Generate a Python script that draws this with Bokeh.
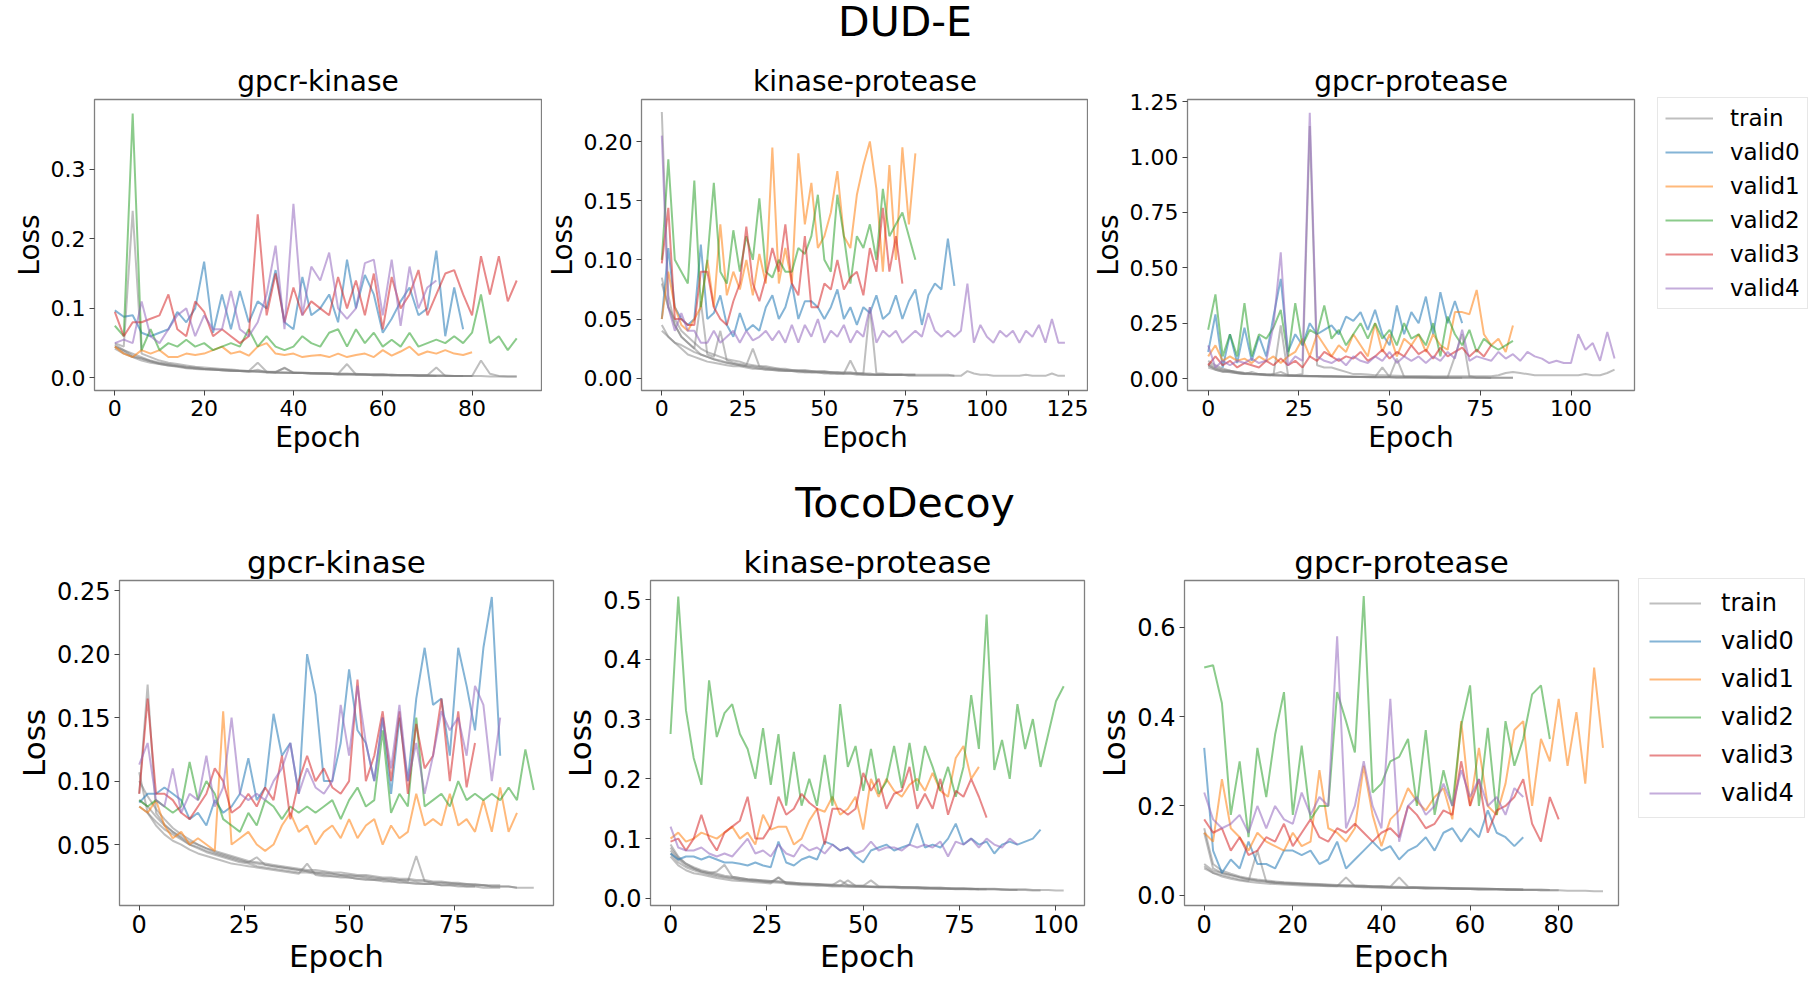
from bokeh.plotting import figure
from bokeh.models import Div, Legend, LegendItem, FixedTicker, NumeralTickFormatter, Range1d
from bokeh.layouts import column, row
from bokeh.embed import file_html
from bokeh.resources import INLINE

FONT = "DejaVu Sans"
COLORS = ["#1f77b4", "#ff7f0e", "#2ca02c", "#d62728", "#9467bd"]
TRAIN_COLOR = "#808080"
STEP = 2  # values below are read every 2 epochs

# ---------------- DUD-E / gpcr-kinase ----------------
dude_gk_train0 = [0.045, 0.038, 0.03, 0.025, 0.022, 0.02, 0.018, 0.016, 0.014, 0.013, 0.012, 0.012, 0.011, 0.01, 0.01, 0.009, 0.012, 0.008, 0.008, 0.007, 0.007, 0.007, 0.006, 0.006, 0.006, 0.005, 0.005, 0.005, 0.005, 0.004, 0.004, 0.004, 0.004, 0.004, 0.003, 0.003, 0.003, 0.003, 0.003, 0.003]
dude_gk_train1 = [0.042, 0.035, 0.03, 0.028, 0.024, 0.02, 0.018, 0.017, 0.015, 0.014, 0.013, 0.012, 0.011, 0.011, 0.01, 0.01, 0.022, 0.009, 0.008, 0.008, 0.007, 0.007, 0.007, 0.006, 0.006, 0.006, 0.02, 0.005, 0.005, 0.005, 0.005, 0.004, 0.004, 0.004, 0.004, 0.004, 0.015, 0.003, 0.003, 0.003, 0.003]
dude_gk_train2 = [0.05, 0.045, 0.24, 0.035, 0.03, 0.025, 0.022, 0.02, 0.018, 0.016, 0.015, 0.014, 0.013, 0.012, 0.011, 0.01, 0.01, 0.009, 0.009, 0.014, 0.008, 0.008, 0.007, 0.007, 0.007, 0.006, 0.006, 0.006, 0.005, 0.005, 0.005, 0.005, 0.004, 0.004, 0.004, 0.004, 0.004, 0.004, 0.003, 0.003, 0.003, 0.025, 0.006, 0.003, 0.002, 0.002]
dude_gk_train3 = [0.048, 0.04, 0.035, 0.03, 0.025, 0.022, 0.02, 0.018, 0.016, 0.015, 0.013, 0.012, 0.012, 0.011, 0.01, 0.01, 0.009, 0.009, 0.008, 0.008, 0.008, 0.007, 0.007, 0.007, 0.006, 0.006, 0.006, 0.005, 0.005, 0.005, 0.005, 0.004, 0.004, 0.004, 0.004, 0.004, 0.003, 0.003, 0.003, 0.003, 0.003, 0.003, 0.002, 0.002, 0.002, 0.002]
dude_gk_train4 = [0.045, 0.04, 0.032, 0.028, 0.024, 0.021, 0.019, 0.017, 0.015, 0.014, 0.013, 0.012, 0.011, 0.01, 0.01, 0.009, 0.009, 0.008, 0.008, 0.015, 0.007, 0.007, 0.006, 0.006, 0.006, 0.005, 0.005, 0.005, 0.005, 0.004, 0.004, 0.004, 0.004, 0.004, 0.003, 0.003, 0.003]
dude_gk_valid0 = [0.097, 0.088, 0.09, 0.065, 0.06, 0.065, 0.07, 0.095, 0.08, 0.10, 0.167, 0.065, 0.12, 0.07, 0.125, 0.08, 0.11, 0.10, 0.155, 0.08, 0.07, 0.145, 0.09, 0.10, 0.12, 0.08, 0.17, 0.10, 0.148, 0.12, 0.065, 0.085, 0.11, 0.13, 0.09, 0.10, 0.183, 0.06, 0.13, 0.07]
dude_gk_valid1 = [0.045, 0.035, 0.03, 0.04, 0.035, 0.04, 0.03, 0.03, 0.035, 0.033, 0.035, 0.04, 0.045, 0.035, 0.038, 0.032, 0.045, 0.05, 0.035, 0.033, 0.035, 0.03, 0.032, 0.033, 0.03, 0.035, 0.03, 0.033, 0.035, 0.03, 0.04, 0.032, 0.038, 0.045, 0.033, 0.038, 0.035, 0.04, 0.035, 0.033, 0.037]
dude_gk_valid2 = [0.075, 0.06, 0.38, 0.04, 0.07, 0.04, 0.05, 0.045, 0.055, 0.045, 0.05, 0.04, 0.045, 0.05, 0.045, 0.07, 0.045, 0.06, 0.045, 0.04, 0.045, 0.06, 0.05, 0.045, 0.065, 0.07, 0.045, 0.07, 0.05, 0.065, 0.045, 0.055, 0.045, 0.065, 0.045, 0.05, 0.055, 0.05, 0.06, 0.05, 0.065, 0.12, 0.05, 0.06, 0.04, 0.057]
dude_gk_valid3 = [0.095, 0.06, 0.08, 0.08, 0.085, 0.09, 0.12, 0.07, 0.06, 0.11, 0.095, 0.06, 0.07, 0.06, 0.05, 0.06, 0.235, 0.09, 0.15, 0.08, 0.13, 0.09, 0.11, 0.10, 0.09, 0.145, 0.10, 0.14, 0.09, 0.15, 0.07, 0.145, 0.10, 0.12, 0.155, 0.09, 0.12, 0.15, 0.155, 0.12, 0.09, 0.175, 0.12, 0.175, 0.11, 0.14]
dude_gk_valid4 = [0.05, 0.055, 0.05, 0.11, 0.06, 0.05, 0.07, 0.09, 0.10, 0.06, 0.09, 0.07, 0.07, 0.125, 0.07, 0.06, 0.08, 0.12, 0.19, 0.07, 0.25, 0.09, 0.16, 0.14, 0.18, 0.10, 0.085, 0.10, 0.165, 0.17, 0.09, 0.17, 0.075, 0.16, 0.10, 0.13, 0.14]

# ---------------- DUD-E / kinase-protease ----------------
dude_kp_train0 = [0.045, 0.035, 0.03, 0.025, 0.02, 0.018, 0.016, 0.014, 0.013, 0.012, 0.011, 0.01, 0.01, 0.009, 0.008, 0.008, 0.007, 0.007, 0.006, 0.006, 0.006, 0.005, 0.005, 0.005, 0.005, 0.004, 0.004, 0.004, 0.004, 0.004, 0.003, 0.003, 0.003, 0.003, 0.003, 0.003, 0.003, 0.003, 0.002, 0.002, 0.002, 0.002, 0.002, 0.002, 0.002, 0.002]
dude_kp_train1 = [0.08, 0.06, 0.045, 0.035, 0.03, 0.025, 0.065, 0.02, 0.018, 0.04, 0.015, 0.013, 0.012, 0.011, 0.025, 0.01, 0.009, 0.008, 0.008, 0.007, 0.007, 0.006, 0.006, 0.006, 0.005, 0.005, 0.005, 0.005, 0.004, 0.015, 0.004, 0.004, 0.004, 0.003, 0.003, 0.003, 0.003, 0.003, 0.003, 0.003]
dude_kp_train2 = [0.085, 0.06, 0.05, 0.04, 0.035, 0.03, 0.025, 0.022, 0.02, 0.018, 0.016, 0.015, 0.014, 0.012, 0.011, 0.01, 0.01, 0.009, 0.008, 0.008, 0.007, 0.007, 0.007, 0.006, 0.006, 0.006, 0.005, 0.005, 0.005, 0.005, 0.004, 0.004, 0.06, 0.004, 0.004, 0.003, 0.003, 0.003, 0.003, 0.003]
dude_kp_train3 = [0.04, 0.035, 0.03, 0.028, 0.025, 0.022, 0.02, 0.018, 0.016, 0.015, 0.013, 0.012, 0.011, 0.01, 0.01, 0.009, 0.008, 0.008, 0.007, 0.007, 0.006, 0.006, 0.006, 0.005, 0.005, 0.005, 0.005, 0.004, 0.004, 0.004, 0.004, 0.004, 0.003, 0.003, 0.003, 0.003, 0.003, 0.003]
dude_kp_train4 = [0.225, 0.07, 0.045, 0.035, 0.03, 0.025, 0.02, 0.018, 0.016, 0.014, 0.013, 0.012, 0.011, 0.01, 0.009, 0.008, 0.008, 0.007, 0.007, 0.006, 0.006, 0.006, 0.005, 0.005, 0.005, 0.005, 0.004, 0.004, 0.004, 0.004, 0.004, 0.003, 0.003, 0.003, 0.003, 0.003, 0.003, 0.003, 0.003, 0.003, 0.003, 0.003, 0.003, 0.003, 0.003, 0.002, 0.002, 0.006, 0.004, 0.003, 0.003, 0.002, 0.002, 0.002, 0.002, 0.002, 0.003, 0.002, 0.002, 0.002, 0.004, 0.002, 0.002]
dude_kp_valid0 = [0.05, 0.11, 0.06, 0.05, 0.045, 0.05, 0.113, 0.05, 0.055, 0.07, 0.045, 0.035, 0.055, 0.04, 0.045, 0.04, 0.06, 0.07, 0.05, 0.06, 0.08, 0.05, 0.065, 0.065, 0.06, 0.05, 0.06, 0.075, 0.05, 0.06, 0.045, 0.06, 0.055, 0.07, 0.05, 0.055, 0.07, 0.05, 0.065, 0.075, 0.045, 0.07, 0.08, 0.075, 0.118, 0.078]
dude_kp_valid1 = [0.05, 0.09, 0.06, 0.045, 0.04, 0.05, 0.06, 0.10, 0.06, 0.13, 0.07, 0.09, 0.075, 0.10, 0.07, 0.105, 0.08, 0.195, 0.08, 0.11, 0.08, 0.19, 0.13, 0.165, 0.11, 0.12, 0.14, 0.175, 0.12, 0.11, 0.155, 0.18, 0.20, 0.16, 0.09, 0.18, 0.10, 0.195, 0.13, 0.19]
dude_kp_valid2 = [0.10, 0.185, 0.10, 0.09, 0.08, 0.167, 0.06, 0.10, 0.165, 0.09, 0.08, 0.125, 0.09, 0.12, 0.10, 0.152, 0.09, 0.085, 0.10, 0.09, 0.09, 0.11, 0.105, 0.12, 0.155, 0.10, 0.09, 0.155, 0.12, 0.08, 0.12, 0.11, 0.13, 0.10, 0.16, 0.12, 0.13, 0.14, 0.12, 0.10]
dude_kp_valid3 = [0.097, 0.144, 0.05, 0.05, 0.045, 0.045, 0.09, 0.09, 0.06, 0.05, 0.045, 0.065, 0.08, 0.128, 0.08, 0.065, 0.085, 0.11, 0.09, 0.13, 0.08, 0.07, 0.12, 0.06, 0.06, 0.08, 0.075, 0.10, 0.075, 0.085, 0.09, 0.07, 0.11, 0.09, 0.144, 0.09, 0.12, 0.08]
dude_kp_valid4 = [0.205, 0.06, 0.04, 0.055, 0.04, 0.04, 0.03, 0.03, 0.04, 0.03, 0.035, 0.04, 0.03, 0.04, 0.032, 0.035, 0.04, 0.032, 0.04, 0.03, 0.045, 0.03, 0.045, 0.035, 0.05, 0.03, 0.04, 0.035, 0.045, 0.03, 0.04, 0.035, 0.06, 0.03, 0.04, 0.035, 0.04, 0.03, 0.035, 0.04, 0.035, 0.055, 0.04, 0.035, 0.04, 0.035, 0.04, 0.08, 0.03, 0.045, 0.035, 0.03, 0.04, 0.035, 0.04, 0.03, 0.04, 0.035, 0.045, 0.03, 0.05, 0.03, 0.03]

# ---------------- DUD-E / gpcr-protease ----------------
dude_gp_train0 = [0.06, 0.045, 0.035, 0.03, 0.025, 0.022, 0.02, 0.018, 0.016, 0.015, 0.014, 0.013, 0.012, 0.011, 0.01, 0.01, 0.009, 0.009, 0.008, 0.008, 0.007, 0.007, 0.007, 0.006, 0.006, 0.006, 0.005, 0.005, 0.005, 0.005, 0.005, 0.004, 0.004, 0.004, 0.004, 0.004]
dude_gp_train1 = [0.07, 0.05, 0.04, 0.035, 0.03, 0.025, 0.022, 0.02, 0.018, 0.016, 0.24, 0.015, 0.014, 0.013, 0.012, 0.011, 0.01, 0.01, 0.01, 0.009, 0.009, 0.008, 0.008, 0.008, 0.05, 0.007, 0.09, 0.007, 0.007, 0.006, 0.006, 0.006, 0.006, 0.005, 0.005, 0.005, 0.005, 0.005, 0.005, 0.004, 0.004, 0.004, 0.004]
dude_gp_train2 = [0.08, 0.06, 0.045, 0.035, 0.03, 0.025, 0.022, 0.02, 0.018, 0.017, 0.016, 0.015, 0.014, 0.013, 0.012, 0.011, 0.01, 0.01, 0.009, 0.009, 0.008, 0.008, 0.008, 0.007, 0.007, 0.007, 0.006, 0.006, 0.006, 0.006, 0.005, 0.005, 0.005, 0.005, 0.1, 0.2, 0.01, 0.005, 0.005, 0.004, 0.004, 0.004, 0.004]
dude_gp_train3 = [0.05, 0.04, 0.032, 0.028, 0.024, 0.021, 0.019, 0.017, 0.015, 0.014, 0.013, 0.012, 0.011, 0.01, 0.01, 0.009, 0.009, 0.008, 0.008, 0.007, 0.007, 0.007, 0.006, 0.006, 0.006, 0.006, 0.005, 0.005, 0.005, 0.005, 0.005, 0.004, 0.004, 0.004, 0.004, 0.004, 0.004, 0.003, 0.003, 0.003]
dude_gp_train4 = [0.06, 0.04, 0.03, 0.035, 0.025, 0.02, 0.03, 0.02, 0.018, 0.02, 0.03, 0.015, 0.015, 0.02, 1.14, 0.06, 0.05, 0.05, 0.04, 0.03, 0.02, 0.02, 0.018, 0.015, 0.015, 0.014, 0.013, 0.012, 0.012, 0.011, 0.011, 0.01, 0.01, 0.01, 0.01, 0.01, 0.01, 0.01, 0.01, 0.01, 0.015, 0.025, 0.03, 0.025, 0.02, 0.015, 0.015, 0.015, 0.015, 0.015, 0.015, 0.015, 0.02, 0.015, 0.015, 0.025, 0.04]
dude_gp_valid0 = [0.12, 0.29, 0.05, 0.2, 0.07, 0.23, 0.08, 0.19, 0.1, 0.28, 0.45, 0.12, 0.2, 0.15, 0.25, 0.2, 0.22, 0.24, 0.2, 0.28, 0.26, 0.3, 0.22, 0.31, 0.2, 0.15, 0.33, 0.2, 0.3, 0.25, 0.37, 0.2, 0.39, 0.25, 0.35, 0.25]
dude_gp_valid1 = [0.1, 0.15, 0.08, 0.1, 0.08, 0.09, 0.07, 0.1, 0.08, 0.1, 0.07, 0.1, 0.12, 0.18, 0.1, 0.2, 0.15, 0.1, 0.15, 0.12, 0.2, 0.15, 0.1, 0.25, 0.12, 0.2, 0.1, 0.18, 0.15, 0.2, 0.12, 0.2, 0.15, 0.13, 0.3, 0.3, 0.29, 0.4, 0.2, 0.15, 0.18, 0.12, 0.24]
dude_gp_valid2 = [0.22, 0.38, 0.1, 0.2, 0.1, 0.34, 0.1, 0.2, 0.18, 0.23, 0.31, 0.1, 0.34, 0.15, 0.22, 0.2, 0.33, 0.18, 0.22, 0.15, 0.2, 0.25, 0.18, 0.25, 0.18, 0.22, 0.15, 0.25, 0.18, 0.2, 0.15, 0.25, 0.1, 0.28, 0.2, 0.15, 0.22, 0.12, 0.18, 0.15, 0.13, 0.15, 0.17]
dude_gp_valid3 = [0.06, 0.1, 0.06, 0.08, 0.05, 0.07, 0.06, 0.05, 0.08, 0.06, 0.09, 0.06, 0.08, 0.05, 0.1, 0.08, 0.12, 0.1, 0.08, 0.1, 0.09, 0.12, 0.08, 0.1, 0.13, 0.09, 0.12, 0.1, 0.15, 0.11, 0.13, 0.09, 0.14, 0.1, 0.12, 0.14, 0.1, 0.13, 0.1, 0.15]
dude_gp_valid4 = [0.15, 0.05, 0.08, 0.06, 0.08, 0.07, 0.09, 0.07, 0.08, 0.24, 0.57, 0.06, 0.1, 0.08, 1.2, 0.1, 0.08, 0.07, 0.09, 0.06, 0.1, 0.08, 0.07, 0.1, 0.08, 0.12, 0.07, 0.1, 0.08, 0.1, 0.07, 0.1, 0.08, 0.12, 0.09, 0.22, 0.08, 0.1, 0.09, 0.08, 0.12, 0.09, 0.11, 0.08, 0.12, 0.1, 0.09, 0.07, 0.08, 0.07, 0.07, 0.2, 0.13, 0.16, 0.08, 0.21, 0.09]

# ---------------- TocoDecoy / gpcr-kinase ----------------
toco_gk_train0 = [0.085, 0.08, 0.072, 0.065, 0.06, 0.056, 0.052, 0.05, 0.047, 0.045, 0.043, 0.041, 0.039, 0.037, 0.036, 0.035, 0.034, 0.033, 0.032, 0.031, 0.03, 0.03, 0.029, 0.028, 0.028, 0.027, 0.026, 0.026, 0.025, 0.024, 0.024, 0.023, 0.023, 0.022, 0.022, 0.021, 0.021, 0.02, 0.02, 0.019, 0.019, 0.018, 0.018, 0.018]
toco_gk_train1 = [0.08, 0.075, 0.068, 0.062, 0.058, 0.054, 0.05, 0.048, 0.045, 0.043, 0.041, 0.039, 0.037, 0.036, 0.04, 0.034, 0.033, 0.032, 0.031, 0.03, 0.029, 0.028, 0.028, 0.027, 0.026, 0.026, 0.025, 0.025, 0.024, 0.023, 0.023, 0.022, 0.022, 0.021, 0.021, 0.02, 0.02, 0.02, 0.019, 0.019, 0.018, 0.018, 0.017, 0.017, 0.017, 0.016]
toco_gk_train2 = [0.1, 0.088, 0.078, 0.07, 0.063, 0.058, 0.054, 0.05, 0.047, 0.044, 0.042, 0.04, 0.038, 0.036, 0.035, 0.034, 0.033, 0.032, 0.031, 0.03, 0.029, 0.028, 0.027, 0.027, 0.026, 0.025, 0.025, 0.024, 0.023, 0.023, 0.022, 0.022, 0.021, 0.041, 0.021, 0.02, 0.02, 0.019, 0.019, 0.018, 0.018, 0.018, 0.017, 0.017, 0.017, 0.016, 0.016, 0.016]
toco_gk_train3 = [0.09, 0.176, 0.075, 0.066, 0.06, 0.055, 0.05, 0.047, 0.044, 0.042, 0.04, 0.038, 0.036, 0.035, 0.033, 0.032, 0.031, 0.03, 0.029, 0.028, 0.028, 0.027, 0.026, 0.025, 0.025, 0.024, 0.023, 0.023, 0.022, 0.022, 0.021, 0.021, 0.02, 0.02, 0.019, 0.019, 0.018, 0.018, 0.018, 0.017, 0.017]
toco_gk_train4 = [0.107, 0.075, 0.065, 0.058, 0.053, 0.05, 0.046, 0.043, 0.041, 0.039, 0.037, 0.035, 0.034, 0.033, 0.032, 0.031, 0.03, 0.029, 0.028, 0.027, 0.035, 0.026, 0.025, 0.025, 0.024, 0.024, 0.023, 0.022, 0.022, 0.021, 0.021, 0.02, 0.02, 0.019, 0.019, 0.019, 0.018, 0.018, 0.017, 0.017, 0.017, 0.016, 0.016, 0.016]
toco_gk_valid0 = [0.083, 0.09, 0.09, 0.095, 0.09, 0.085, 0.07, 0.075, 0.065, 0.085, 0.075, 0.08, 0.09, 0.118, 0.085, 0.095, 0.153, 0.12, 0.13, 0.09, 0.2, 0.168, 0.1, 0.1, 0.13, 0.188, 0.14, 0.13, 0.1, 0.15, 0.09, 0.15, 0.1, 0.165, 0.205, 0.16, 0.165, 0.12, 0.205, 0.175, 0.14, 0.205, 0.245, 0.12]
toco_gk_valid1 = [0.08, 0.075, 0.085, 0.065, 0.055, 0.06, 0.05, 0.055, 0.05, 0.045, 0.155, 0.05, 0.055, 0.06, 0.05, 0.045, 0.05, 0.065, 0.075, 0.06, 0.065, 0.05, 0.06, 0.065, 0.055, 0.07, 0.055, 0.065, 0.07, 0.05, 0.065, 0.055, 0.06, 0.09, 0.065, 0.07, 0.065, 0.09, 0.065, 0.07, 0.06, 0.085, 0.06, 0.095, 0.06, 0.075]
toco_gk_valid2 = [0.085, 0.08, 0.085, 0.08, 0.075, 0.08, 0.115, 0.085, 0.1, 0.09, 0.07, 0.065, 0.06, 0.075, 0.065, 0.085, 0.08, 0.07, 0.08, 0.075, 0.08, 0.075, 0.08, 0.085, 0.07, 0.085, 0.095, 0.08, 0.085, 0.14, 0.075, 0.09, 0.08, 0.15, 0.08, 0.085, 0.09, 0.08, 0.1, 0.085, 0.09, 0.085, 0.09, 0.085, 0.095, 0.085, 0.125, 0.093]
toco_gk_valid3 = [0.09, 0.165, 0.09, 0.09, 0.085, 0.075, 0.07, 0.08, 0.09, 0.11, 0.1, 0.075, 0.08, 0.09, 0.08, 0.095, 0.085, 0.12, 0.07, 0.1, 0.12, 0.1, 0.11, 0.095, 0.09, 0.1, 0.18, 0.1, 0.12, 0.155, 0.1, 0.155, 0.09, 0.145, 0.11, 0.12, 0.165, 0.1, 0.155, 0.095, 0.13]
toco_gk_valid4 = [0.113, 0.13, 0.085, 0.08, 0.11, 0.075, 0.09, 0.085, 0.12, 0.08, 0.095, 0.15, 0.09, 0.085, 0.09, 0.085, 0.1, 0.11, 0.13, 0.09, 0.11, 0.095, 0.09, 0.1, 0.16, 0.12, 0.175, 0.13, 0.1, 0.15, 0.11, 0.16, 0.1, 0.13, 0.09, 0.12, 0.155, 0.14, 0.15, 0.12, 0.175, 0.16, 0.1, 0.15]

# ---------------- TocoDecoy / kinase-protease ----------------
toco_kp_train0 = [0.075, 0.06, 0.052, 0.047, 0.043, 0.04, 0.037, 0.035, 0.033, 0.031, 0.03, 0.029, 0.028, 0.027, 0.026, 0.025, 0.024, 0.024, 0.023, 0.022, 0.022, 0.021, 0.021, 0.02, 0.02, 0.02, 0.019, 0.019, 0.019, 0.018, 0.018, 0.018, 0.017, 0.017, 0.017, 0.016, 0.016, 0.016, 0.016, 0.015, 0.015, 0.015, 0.015, 0.014, 0.014, 0.014, 0.014, 0.013, 0.013]
toco_kp_train1 = [0.08, 0.065, 0.055, 0.05, 0.045, 0.042, 0.039, 0.036, 0.034, 0.032, 0.031, 0.03, 0.028, 0.027, 0.035, 0.026, 0.025, 0.024, 0.023, 0.023, 0.022, 0.022, 0.021, 0.03, 0.021, 0.02, 0.02, 0.019, 0.019, 0.019, 0.018, 0.018, 0.018, 0.017, 0.017, 0.017, 0.016, 0.016, 0.016, 0.016, 0.015]
toco_kp_train2 = [0.09, 0.07, 0.058, 0.05, 0.045, 0.042, 0.045, 0.056, 0.036, 0.034, 0.032, 0.031, 0.03, 0.029, 0.028, 0.027, 0.026, 0.025, 0.025, 0.024, 0.023, 0.023, 0.022, 0.022, 0.021, 0.021, 0.03, 0.02, 0.02, 0.02, 0.019, 0.019, 0.019, 0.018, 0.018, 0.018, 0.017, 0.017, 0.017, 0.016, 0.016, 0.016, 0.016, 0.015, 0.015, 0.015, 0.015, 0.014, 0.014, 0.014, 0.013, 0.013]
toco_kp_train3 = [0.07, 0.055, 0.047, 0.042, 0.04, 0.037, 0.034, 0.032, 0.03, 0.029, 0.028, 0.027, 0.026, 0.025, 0.035, 0.024, 0.023, 0.022, 0.022, 0.021, 0.021, 0.02, 0.02, 0.02, 0.019, 0.019, 0.019, 0.018, 0.018, 0.018, 0.017, 0.017, 0.017, 0.016, 0.016, 0.016, 0.016, 0.015, 0.015, 0.015, 0.015, 0.015]
toco_kp_train4 = [0.085, 0.068, 0.058, 0.052, 0.047, 0.044, 0.041, 0.038, 0.036, 0.034, 0.032, 0.031, 0.03, 0.029, 0.028, 0.027, 0.026, 0.025, 0.024, 0.024, 0.023, 0.022, 0.03, 0.022, 0.021, 0.021, 0.02, 0.02, 0.019, 0.019, 0.019, 0.018, 0.018, 0.018, 0.017, 0.017, 0.017, 0.016, 0.016, 0.016, 0.015, 0.015, 0.015, 0.015, 0.014, 0.014]
toco_kp_valid0 = [0.075, 0.065, 0.07, 0.07, 0.065, 0.07, 0.065, 0.06, 0.06, 0.058, 0.055, 0.06, 0.055, 0.052, 0.095, 0.06, 0.055, 0.065, 0.07, 0.065, 0.095, 0.09, 0.08, 0.085, 0.07, 0.06, 0.08, 0.085, 0.09, 0.08, 0.085, 0.09, 0.125, 0.085, 0.09, 0.085, 0.1, 0.125, 0.09, 0.1, 0.09, 0.095, 0.075, 0.09, 0.095, 0.09, 0.095, 0.1, 0.115]
toco_kp_valid1 = [0.1, 0.11, 0.095, 0.1, 0.11, 0.105, 0.1, 0.11, 0.12, 0.1, 0.11, 0.09, 0.14, 0.115, 0.12, 0.12, 0.09, 0.1, 0.13, 0.15, 0.145, 0.17, 0.14, 0.15, 0.17, 0.115, 0.2, 0.17, 0.2, 0.18, 0.17, 0.19, 0.2, 0.18, 0.21, 0.18, 0.17, 0.235, 0.255, 0.2, 0.22]
toco_kp_valid2 = [0.275, 0.505, 0.315, 0.235, 0.19, 0.365, 0.27, 0.31, 0.325, 0.275, 0.25, 0.2, 0.285, 0.19, 0.275, 0.155, 0.245, 0.155, 0.2, 0.155, 0.24, 0.155, 0.325, 0.22, 0.255, 0.18, 0.25, 0.175, 0.195, 0.255, 0.185, 0.26, 0.18, 0.255, 0.22, 0.18, 0.22, 0.17, 0.22, 0.34, 0.25, 0.475, 0.215, 0.265, 0.2, 0.325, 0.25, 0.3, 0.22, 0.275, 0.33, 0.355]
toco_kp_valid3 = [0.095, 0.1, 0.08, 0.1, 0.14, 0.1, 0.08, 0.11, 0.12, 0.13, 0.17, 0.1, 0.1, 0.12, 0.17, 0.14, 0.15, 0.175, 0.16, 0.15, 0.09, 0.15, 0.15, 0.14, 0.15, 0.21, 0.18, 0.2, 0.15, 0.175, 0.18, 0.22, 0.15, 0.175, 0.15, 0.2, 0.14, 0.18, 0.17, 0.2, 0.17, 0.135]
toco_kp_valid4 = [0.12, 0.085, 0.08, 0.08, 0.085, 0.075, 0.07, 0.075, 0.07, 0.085, 0.1, 0.075, 0.08, 0.07, 0.09, 0.075, 0.07, 0.09, 0.08, 0.085, 0.075, 0.09, 0.08, 0.085, 0.075, 0.08, 0.095, 0.08, 0.085, 0.085, 0.08, 0.09, 0.085, 0.09, 0.085, 0.095, 0.07, 0.095, 0.09, 0.1, 0.085, 0.1, 0.09, 0.085, 0.1, 0.09]

# ---------------- TocoDecoy / gpcr-protease ----------------
toco_gp_train0 = [0.07, 0.055, 0.05, 0.045, 0.04, 0.036, 0.033, 0.031, 0.029, 0.028, 0.027, 0.026, 0.025, 0.024, 0.023, 0.022, 0.022, 0.021, 0.021, 0.02, 0.02, 0.019, 0.019, 0.018, 0.018, 0.017, 0.017, 0.016, 0.016, 0.015, 0.015, 0.015, 0.014, 0.014, 0.014, 0.013, 0.013]
toco_gp_train1 = [0.065, 0.05, 0.045, 0.04, 0.035, 0.032, 0.1, 0.03, 0.028, 0.026, 0.025, 0.024, 0.023, 0.022, 0.021, 0.02, 0.04, 0.02, 0.019, 0.018, 0.018, 0.017, 0.017, 0.016, 0.016, 0.015, 0.015, 0.015, 0.014, 0.014, 0.014, 0.013, 0.013, 0.013, 0.012, 0.012, 0.012, 0.012, 0.011, 0.011, 0.011, 0.01, 0.01, 0.01, 0.009, 0.009]
toco_gp_train2 = [0.15, 0.07, 0.055, 0.048, 0.042, 0.038, 0.035, 0.033, 0.031, 0.029, 0.028, 0.027, 0.026, 0.025, 0.024, 0.023, 0.022, 0.022, 0.021, 0.02, 0.02, 0.019, 0.04, 0.019, 0.018, 0.018, 0.017, 0.017, 0.016, 0.016, 0.015, 0.015, 0.015, 0.014, 0.014, 0.014, 0.013, 0.013, 0.013, 0.012]
toco_gp_train3 = [0.06, 0.05, 0.042, 0.037, 0.033, 0.03, 0.028, 0.026, 0.025, 0.024, 0.023, 0.022, 0.021, 0.021, 0.02, 0.02, 0.019, 0.019, 0.018, 0.018, 0.017, 0.017, 0.016, 0.016, 0.016, 0.015, 0.015, 0.015, 0.014, 0.014, 0.014, 0.013, 0.013, 0.013, 0.012, 0.012, 0.012, 0.012, 0.011, 0.011, 0.011]
toco_gp_train4 = [0.14, 0.06, 0.05, 0.045, 0.04, 0.035, 0.032, 0.03, 0.028, 0.027, 0.026, 0.025, 0.024, 0.023, 0.022, 0.021, 0.021, 0.02, 0.02, 0.019, 0.019, 0.018, 0.018, 0.017, 0.017, 0.016, 0.016, 0.016, 0.015, 0.015, 0.015, 0.014, 0.014, 0.014, 0.013, 0.013, 0.013]
toco_gp_valid0 = [0.33, 0.1, 0.05, 0.08, 0.06, 0.12, 0.07, 0.07, 0.06, 0.1, 0.1, 0.09, 0.1, 0.07, 0.08, 0.12, 0.06, 0.08, 0.1, 0.12, 0.1, 0.11, 0.08, 0.1, 0.11, 0.13, 0.1, 0.14, 0.15, 0.12, 0.15, 0.13, 0.19, 0.14, 0.13, 0.11, 0.13]
toco_gp_valid1 = [0.14, 0.12, 0.26, 0.15, 0.13, 0.1, 0.14, 0.12, 0.11, 0.1, 0.14, 0.11, 0.12, 0.28, 0.15, 0.14, 0.12, 0.15, 0.29, 0.18, 0.11, 0.17, 0.19, 0.24, 0.21, 0.19, 0.22, 0.24, 0.17, 0.39, 0.2, 0.33, 0.2, 0.18, 0.25, 0.37, 0.39, 0.2, 0.35, 0.3, 0.44, 0.29, 0.41, 0.25, 0.51, 0.33]
toco_gp_valid2 = [0.51, 0.515, 0.43, 0.18, 0.3, 0.13, 0.33, 0.22, 0.36, 0.455, 0.18, 0.335, 0.17, 0.2, 0.2, 0.455, 0.39, 0.32, 0.67, 0.23, 0.25, 0.3, 0.31, 0.35, 0.2, 0.37, 0.18, 0.28, 0.2, 0.38, 0.47, 0.2, 0.375, 0.18, 0.39, 0.29, 0.35, 0.45, 0.47, 0.35]
toco_gp_valid3 = [0.17, 0.14, 0.15, 0.1, 0.13, 0.09, 0.1, 0.13, 0.12, 0.16, 0.11, 0.14, 0.17, 0.13, 0.12, 0.15, 0.14, 0.16, 0.14, 0.12, 0.14, 0.15, 0.13, 0.2, 0.18, 0.15, 0.16, 0.19, 0.18, 0.3, 0.2, 0.26, 0.14, 0.19, 0.2, 0.22, 0.26, 0.16, 0.12, 0.22, 0.17]
toco_gp_valid4 = [0.23, 0.17, 0.15, 0.16, 0.18, 0.14, 0.2, 0.15, 0.2, 0.17, 0.16, 0.23, 0.18, 0.22, 0.2, 0.58, 0.15, 0.2, 0.3, 0.2, 0.15, 0.44, 0.12, 0.2, 0.22, 0.18, 0.2, 0.25, 0.2, 0.28, 0.22, 0.26, 0.2, 0.22, 0.18, 0.24, 0.22]


def epochs(values):
    return [STEP * i for i in range(len(values))]


def panel(title, trains, valids, xr, yr, xticks, yticks, yfmt, fw, fh, borders, sizes, legend=None):
    left, right, top, bottom = borders
    title_size, tick_size, label_size, legend_size, title_gap = sizes
    p = figure(title=title, frame_width=fw, frame_height=fh,
               x_range=Range1d(*xr), y_range=Range1d(*yr),
               min_border_left=left, min_border_right=right,
               min_border_top=top, min_border_bottom=bottom,
               toolbar_location=None, output_backend="svg")
    p.title.align = "center"
    p.title.text_font = FONT
    p.title.text_font_size = title_size
    p.title.text_font_style = "normal"
    p.title.text_color = "#000000"
    p.title.standoff = title_gap
    p.grid.visible = False
    p.outline_line_color = "#808080"
    p.outline_line_width = 1.3

    train_r = []
    for t in trains:
        train_r.append(p.line(epochs(t), t, color=TRAIN_COLOR, line_width=2, line_alpha=0.5))
    valid_r = []
    for i, v in enumerate(valids):
        valid_r.append(p.line(epochs(v), v, color=COLORS[i], line_width=2, line_alpha=0.55))

    for ax in (p.xaxis[0], p.yaxis[0]):
        ax.axis_line_color = None
        ax.major_tick_line_color = "#444444"
        ax.major_tick_in = 0
        ax.major_tick_out = 5
        ax.minor_tick_line_color = None
        ax.major_label_text_font = FONT
        ax.major_label_text_font_size = tick_size
        ax.major_label_text_color = "#000000"
        ax.major_label_standoff = 4
        ax.axis_label_text_font = FONT
        ax.axis_label_text_font_size = label_size
        ax.axis_label_text_font_style = "normal"
        ax.axis_label_text_color = "#000000"
        ax.axis_label_standoff = 2
    p.xaxis.ticker = FixedTicker(ticks=xticks)
    p.yaxis.ticker = FixedTicker(ticks=yticks)
    p.xaxis.formatter = NumeralTickFormatter(format="0")
    p.yaxis.formatter = NumeralTickFormatter(format=yfmt)
    p.xaxis.axis_label = "Epoch"
    p.yaxis.axis_label = "Loss"

    if legend is not None:
        gx, gh, sp, pad, glen, stand = legend
        items = [LegendItem(label="train", renderers=[train_r[0]])]
        items += [LegendItem(label="valid%d" % i, renderers=[r]) for i, r in enumerate(valid_r)]
        n = len(items)
        height = 2 * pad + n * gh + (n - 1) * sp
        leg = Legend(items=items, location=(gx, fh - height), orientation="vertical",
                     label_text_font=FONT, label_text_font_size=legend_size,
                     label_text_color="#000000", label_height=gh, glyph_height=gh,
                     glyph_width=glen, label_standoff=stand, spacing=sp, padding=pad,
                     margin=0, border_line_color="#d0d0d0", border_line_width=1.2,
                     background_fill_alpha=1.0)
        p.add_layout(leg, "right")
    return p


TOP = ("28px", "22px", "28px", "23px", 4)
BOT = ("31px", "24px", "31px", "24px", 1)

d1 = panel("gpcr-kinase",
           [dude_gk_train0, dude_gk_train1, dude_gk_train2, dude_gk_train3, dude_gk_train4],
           [dude_gk_valid0, dude_gk_valid1, dude_gk_valid2, dude_gk_valid3, dude_gk_valid4],
           (-4.55, 95.55), (-0.018, 0.40), [0, 20, 40, 60, 80], [0, 0.1, 0.2, 0.3], "0.0",
           447, 291, (94, 1, 55, 77), TOP)
d2 = panel("kinase-protease",
           [dude_kp_train0, dude_kp_train1, dude_kp_train2, dude_kp_train3, dude_kp_train4],
           [dude_kp_valid0, dude_kp_valid1, dude_kp_valid2, dude_kp_valid3, dude_kp_valid4],
           (-6.25, 131.25), (-0.0104, 0.2355), [0, 25, 50, 75, 100, 125],
           [0, 0.05, 0.1, 0.15, 0.2], "0.00",
           447, 291, (91, 0, 55, 77), TOP)
d3 = panel("gpcr-protease",
           [dude_gp_train0, dude_gp_train1, dude_gp_train2, dude_gp_train3, dude_gp_train4],
           [dude_gp_valid0, dude_gp_valid1, dude_gp_valid2, dude_gp_valid3, dude_gp_valid4],
           (-5.7, 117.5), (-0.054, 1.26), [0, 25, 50, 75, 100],
           [0, 0.25, 0.5, 0.75, 1.0, 1.25], "0.00",
           447, 291, (92, 172, 55, 77), TOP, legend=(23, 26, 8, 7, 48, 17))

t1 = panel("gpcr-kinase",
           [toco_gk_train0, toco_gk_train1, toco_gk_train2, toco_gk_train3, toco_gk_train4],
           [toco_gk_valid0, toco_gk_valid1, toco_gk_valid2, toco_gk_valid3, toco_gk_valid4],
           (-4.7, 98.7), (0.002, 0.258), [0, 25, 50, 75], [0.05, 0.1, 0.15, 0.2, 0.25], "0.00",
           434, 325, (119, 5, 41, 78), BOT)
t2 = panel("kinase-protease",
           [toco_kp_train0, toco_kp_train1, toco_kp_train2, toco_kp_train3, toco_kp_train4],
           [toco_kp_valid0, toco_kp_valid1, toco_kp_valid2, toco_kp_valid3, toco_kp_valid4],
           (-5.2, 107.4), (-0.012, 0.532), [0, 25, 50, 75, 100], [0, 0.1, 0.2, 0.3, 0.4, 0.5], "0.0",
           434, 325, (92, 5, 41, 78), BOT)
t3 = panel("gpcr-protease",
           [toco_gp_train0, toco_gp_train1, toco_gp_train2, toco_gp_train3, toco_gp_train4],
           [toco_gp_valid0, toco_gp_valid1, toco_gp_valid2, toco_gp_valid3, toco_gp_valid4],
           (-4.45, 93.5), (-0.023, 0.705), [0, 20, 40, 60, 80], [0, 0.2, 0.4, 0.6], "0.0",
           434, 325, (95, 180, 41, 78), BOT, legend=(20, 28, 10, 10, 52, 20))


def heading(text, h):
    return Div(text=text, width=1800, height=h,
               styles={"font-family": FONT, "font-size": "41px", "text-align": "center",
                       "line-height": "%dpx" % h, "color": "#000000", "overflow": "visible"})


layout = column(heading("DUD-E", 34), row(d1, d2, d3), heading("TocoDecoy", 62), row(t1, t2, t3))

open("out.html", "w").write(file_html(layout, INLINE))
